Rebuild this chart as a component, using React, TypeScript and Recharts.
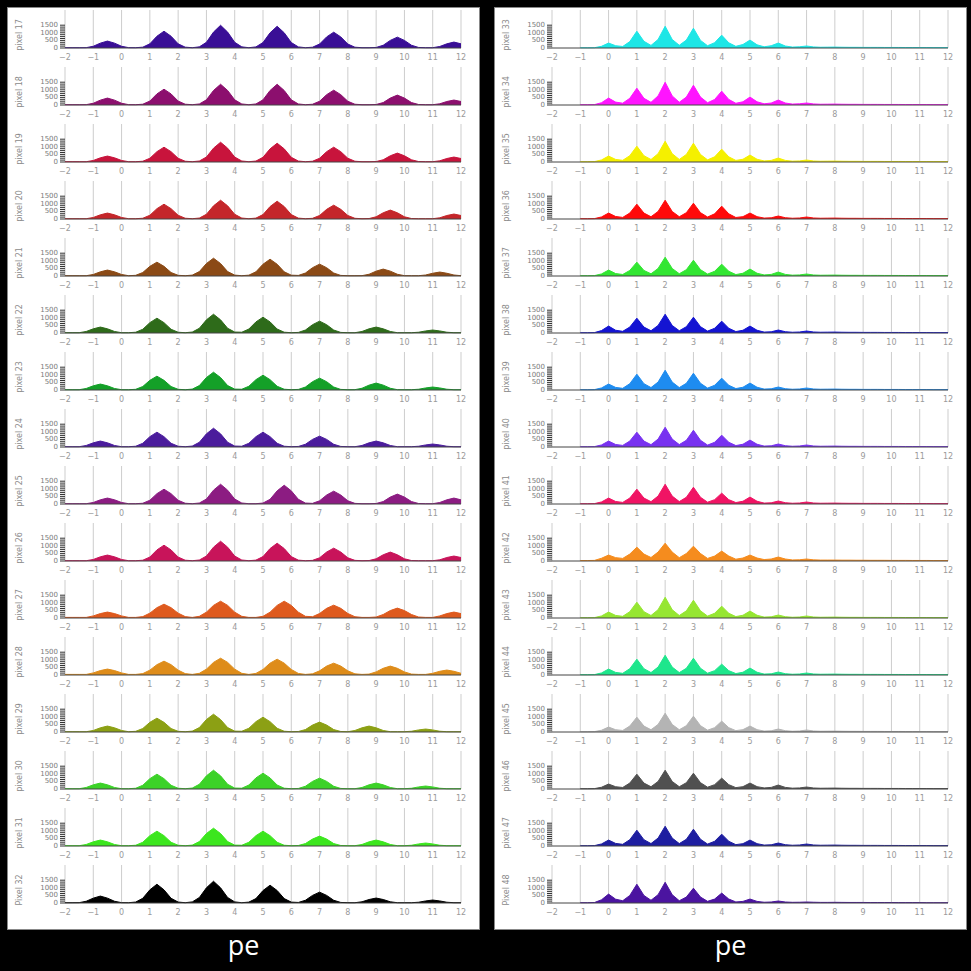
import { Area, AreaChart, CartesianGrid, XAxis, YAxis } from "recharts";

// pe bins (left panel starts at -2, right panel at -1)
const peLeft = [
  -2, -1.75, -1.5, -1.25, -1, -0.75, -0.5, -0.25, 0, 0.25, 0.5, 0.75, 1, 1.25, 1.5, 1.75, 2, 2.25, 2.5,
  2.75, 3, 3.25, 3.5, 3.75, 4, 4.25, 4.5, 4.75, 5, 5.25, 5.5, 5.75, 6, 6.25, 6.5, 6.75, 7, 7.25, 7.5,
  7.75, 8, 8.25, 8.5, 8.75, 9, 9.25, 9.5, 9.75, 10, 10.25, 10.5, 10.75, 11, 11.25, 11.5, 11.75, 12,
];
const peRight = [
  -1, -0.75, -0.5, -0.25, 0, 0.25, 0.5, 0.75, 1, 1.25, 1.5, 1.75, 2, 2.25, 2.5, 2.75, 3, 3.25, 3.5,
  3.75, 4, 4.25, 4.5, 4.75, 5, 5.25, 5.5, 5.75, 6, 6.25, 6.5, 6.75, 7, 7.25, 7.5, 7.75, 8, 8.25, 8.5,
  8.75, 9, 9.25, 9.5, 9.75, 10, 10.25, 10.5, 10.75, 11, 11.25, 11.5, 11.75, 12,
];
const peTicks = [-2, -1, 0, 1, 2, 3, 4, 5, 6, 7, 8, 9, 10, 11, 12];
const countTicks = [0, 125, 250, 375, 500, 625, 750, 875, 1000, 1125, 1250, 1375, 1500];

// left panel counts
const pixel17 = [20,20,20, 23,115,320,455,320,115,23, 20, 55,275,775,1105,775,275,55, 20, 75,375,1045,1495,1045,375,75, 20, 72,360,1000,1430,1000,360,72, 20, 52,260,730,1040,730,260,52, 20,20, 36,180,500,715,500,180,36, 20, 20,100,275,390,275];
const pixel18 = [20,20,20, 23,115,320,455,320,115,23, 20, 52,260,730,1040,730,260,52, 20, 68,340,955,1365,955,340,68, 20, 68,340,955,1365,955,340,68, 20, 50,245,680,975,680,245,50, 20,20, 33,160,455,650,455,160,33, 20, 20,80,230,325,230];
const pixel19 = [20,20,20, 20,100,275,390,275,100,20, 20, 50,245,680,975,680,245,50, 20, 65,325,910,1300,910,325,65, 20, 62,310,865,1235,865,310,62, 20, 50,245,680,975,680,245,50, 20,20, 30,145,410,585,410,145,30, 20, 20,80,230,325,230];
const pixel20 = [20,20,20, 20,100,275,390,275,100,20, 20, 50,245,680,975,680,245,50, 20, 62,310,865,1235,865,310,62, 20, 58,290,820,1170,820,290,58, 20, 45,230,635,910,635,230,45, 20, 30,145,410,585,410,145,30, 20,20, 20,80,230,325,230];
const pixel21 = [20,20,20, 20,100,275,390,275,100,20, 45,230,635,910,635,230,45, 20, 58,290,820,1170,820,290,58, 20, 55,275,775,1105,775,275,55, 39,195,545,780,545,195,39, 20,20, 23,115,320,455,320,115,23, 20, 20,65,180,260,180,65,20];
const pixel22 = [20,20, 20,100,275,390,275,100,20, 20, 50,245,680,975,680,245,50, 20, 62,310,865,1235,865,310,62, 52,260,730,1040,730,260,52, 20, 39,195,545,780,545,195,39, 20, 20,100,275,390,275,100,20, 20, 20,50,135,195,135,50,20, 20];
const pixel23 = [20,20, 20,100,275,390,275,100,20, 20, 45,230,635,910,635,230,45, 20, 58,290,820,1170,820,290,58, 50,245,680,975,680,245,50, 20, 39,195,545,780,545,195,39, 20, 23,115,320,455,320,115,23, 20, 20,50,135,195,135,50,20, 20];
const pixel24 = [20,20, 20,100,275,390,275,100,20, 20, 50,245,680,975,680,245,50, 20, 62,310,865,1235,865,310,62, 50,245,680,975,680,245,50, 20, 36,180,500,715,500,180,36, 20, 20,100,275,390,275,100,20, 20, 20,50,135,195,135,50,20, 20];
const pixel25 = [20,20,20, 20,100,275,390,275,100,20, 20, 50,245,680,975,680,245,50, 20, 65,325,910,1300,910,325,65, 20,20, 62,310,865,1235,865,310,62, 42,210,590,845,590,210,42, 20,20, 33,160,455,650,455,160,33, 20, 20,100,275,390,275];
const pixel26 = [20,20,20, 20,100,275,390,275,100,20, 20, 52,260,730,1040,730,260,52, 20, 65,325,910,1300,910,325,65, 20, 58,290,820,1170,820,290,58, 20, 42,210,590,845,590,210,42, 20, 30,145,410,585,410,145,30, 20,20, 20,80,230,325,230];
const pixel27 = [40,40,40, 40,137,290,390,290,137,40, 40, 91,320,680,910,680,320,91, 40, 110,385,830,1105,830,385,110, 40,40, 110,385,830,1105,830,385,110, 85,295,635,845,635,295,85, 40,40, 65,230,490,650,490,230,65, 40, 40,137,290,390,290];
const pixel28 = [40,40,40, 40,137,290,390,290,137,40, 40, 91,320,680,910,680,320,91, 40, 110,385,830,1105,830,385,110, 40, 104,364,780,1040,780,364,104, 40, 78,273,585,780,585,273,78, 40, 59,205,440,585,440,205,59, 40, 40,114,244,325,244,114];
const pixel29 = [20,20,20, 20,100,275,390,275,100,20, 45,230,635,910,635,230,45, 20, 58,290,820,1170,820,290,58, 50,245,680,975,680,245,50, 20, 33,160,455,650,455,160,33, 20,100,275,390,275,100,20, 20, 20,50,135,195,135,50,20, 20,20];
const pixel30 = [20,20, 20,100,275,390,275,100,20, 20, 50,245,680,975,680,245,50, 20, 62,310,865,1235,865,310,62, 52,260,730,1040,730,260,52, 20, 36,180,500,715,500,180,36, 20, 20,100,275,390,275,100,20, 20,50,135,195,135,50,20, 20,20];
const pixel31 = [20,20, 20,100,275,390,275,100,20, 20, 50,245,680,975,680,245,50, 20, 58,290,820,1170,820,290,58, 50,245,680,975,680,245,50, 20, 33,160,455,650,455,160,33, 20, 20,100,275,390,275,100,20, 20,50,135,195,135,50,20, 20,20];
const pixel32 = [20,20, 23,115,320,455,320,115,23, 20, 62,310,865,1235,865,310,62, 20, 72,360,1000,1430,1000,360,72, 20, 58,290,820,1170,820,290,58, 36,180,500,715,500,180,36, 20, 20,80,230,325,230,80,20, 20, 20,50,135,195,135,50,20, 20];

// right panel counts (tail above 8 pe shared)
const rightTail = [45, 45, 40, 40, 40, 35, 35, 35, 30, 30, 30, 30, 25, 25, 25];
const pixel33 = [15,15,20,110,325, 150,100,420,1105, 440,170,560,1430, 560,180,520,1300, 500,150,350,845, 340,110,230,520, 210,80,150,325, 130,60,80,130, 70,50,55,60, 50, ...rightTail];
const pixel34 = [20,20,25,150,455, 190,120,440,1105, 440,175,600,1495, 600,180,520,1300, 520,150,365,910, 365,115,210,520, 210,80,130,325, 130,60,80,130, 70,50,55,60, 50, ...rightTail];
const pixel35 = [20,20,25,135,390, 170,110,415,1040, 415,165,545,1365, 545,170,495,1235, 495,140,340,845, 340,105,180,455, 180,70,105,260, 105,55,70,130, 65,50,55,60, 50, ...rightTail];
const pixel36 = [20,20,25,135,390, 165,105,390,975, 390,150,495,1235, 495,150,415,1040, 415,130,340,845, 340,100,155,390, 155,60,80,195, 85,50,65,130, 65,50,55,60, 50, ...rightTail];
const pixel37 = [20,20,25,135,390, 160,100,365,910, 365,145,495,1235, 495,150,415,1040, 415,125,310,780, 310,95,180,455, 180,70,105,260, 105,55,70,130, 65,50,55,60, 50, ...rightTail];
const pixel38 = [20,20,25,160,455, 180,110,390,975, 390,150,495,1235, 495,150,415,1040, 415,125,310,780, 310,95,180,455, 180,60,80,195, 85,50,65,130, 65,50,55,60, 50, ...rightTail];
const pixel39 = [20,20,25,135,390, 170,110,415,1040, 415,160,520,1300, 520,160,440,1105, 440,125,310,780, 310,95,180,455, 180,60,80,195, 85,50,65,130, 65,50,55,60, 50, ...rightTail];
const pixel40 = [20,20,25,135,390, 165,105,390,975, 390,155,520,1300, 520,160,440,1105, 440,125,310,780, 310,95,180,455, 180,60,80,195, 85,50,65,130, 65,50,55,60, 50, ...rightTail];
const pixel41 = [20,20,25,135,390, 165,105,390,975, 390,155,520,1300, 520,160,440,1105, 440,120,285,715, 285,95,180,455, 180,60,80,195, 85,50,65,130, 65,50,55,60, 50, ...rightTail];
const pixel42 = [30,30,40,180,390, 220,170,455,910, 455,230,585,1170, 585,220,490,975, 490,170,325,650, 325,120,195,390, 195,95,130,260, 130,70,80,130, 75,60,60,60, 55, 55,50,50,45,45,45,40,40,40,35,35,35,30,30,30];
const pixel43 = [20,20,25,135,390, 170,110,415,1040, 415,165,545,1365, 545,165,470,1170, 470,125,310,780, 310,95,180,455, 180,60,80,195, 85,50,65,130, 65,50,55,60, 50, ...rightTail];
const pixel44 = [20,20,25,135,390, 170,110,415,1040, 415,160,520,1300, 520,160,440,1105, 440,120,285,715, 285,95,180,455, 180,60,80,195, 85,50,65,130, 65,50,55,60, 50, ...rightTail];
const pixel45 = [20,20,25,115,325, 150,100,390,975, 390,150,495,1235, 495,150,415,1040, 415,120,285,715, 285,90,155,390, 155,60,80,195, 85,50,65,130, 65,50,55,60, 50, ...rightTail];
const pixel46 = [20,20,25,115,325, 150,100,390,975, 390,150,495,1235, 495,150,415,1040, 415,120,285,715, 285,90,155,390, 155,70,105,260, 105,55,70,130, 65,50,55,60, 50, ...rightTail];
const pixel47 = [20,20,25,135,390, 170,110,415,1040, 415,160,520,1300, 520,160,440,1105, 440,125,310,780, 310,90,155,390, 155,60,80,195, 85,50,65,130, 65,50,55,60, 50, ...rightTail];
const pixel48 = [20,20,30,210,585, 250,150,495,1235, 495,180,545,1365, 545,150,390,975, 390,110,260,650, 260,70,105,260, 105,50,65,130, 65,45,50,65, 50,40,40,45, 40, 35,35,35,30,30,30,30,25,25,25,25,20,20,20,20];

const leftLabels = ["pixel 17", "pixel 18", "pixel 19", "pixel 20", "pixel 21", "pixel 22", "pixel 23", "pixel 24",
  "pixel 25", "pixel 26", "pixel 27", "pixel 28", "pixel 29", "pixel 30", "pixel 31", "Pixel 32"];
const rightLabels = ["pixel 33", "pixel 34", "pixel 35", "pixel 36", "pixel 37", "pixel 38", "pixel 39", "pixel 40",
  "pixel 41", "pixel 42", "pixel 43", "pixel 44", "pixel 45", "pixel 46", "pixel 47", "Pixel 48"];
const leftColors = ["#3a0f96", "#8c0f6e", "#c8143c", "#c4262a", "#8b4a16", "#2e6b1a", "#14a028", "#4b1c9c",
  "#8c1c82", "#c8145a", "#de5a1e", "#de8c1a", "#8ca014", "#3cd228", "#3ce61e", "#000000"];
const rightColors = ["#1ee6e6", "#ff14ff", "#f5f000", "#ff0a0a", "#32e632", "#1414d2", "#1e8cf0", "#7832f0",
  "#f01464", "#f58c1e", "#96e632", "#1ee68c", "#b4b4b4", "#505050", "#1e1ea0", "#4b14a0"];
const leftValues = [pixel17, pixel18, pixel19, pixel20, pixel21, pixel22, pixel23, pixel24,
  pixel25, pixel26, pixel27, pixel28, pixel29, pixel30, pixel31, pixel32];
const rightValues = [pixel33, pixel34, pixel35, pixel36, pixel37, pixel38, pixel39, pixel40,
  pixel41, pixel42, pixel43, pixel44, pixel45, pixel46, pixel47, pixel48];

const PANEL_W = 471;
const ROW_H = 57;

function PixelLabel(props: any) {
  const { viewBox, text } = props;
  if (!viewBox) return null;
  const x = 11;
  const y = viewBox.y + viewBox.height - 13;
  return (
    <text x={x} y={y} transform={`rotate(-90 ${x} ${y})`} textAnchor="middle" dominantBaseline="central"
      fontSize={8} fill="#8a8a8a" fontFamily="DejaVu Sans">
      {text}
    </text>
  );
}

function CountTick(props: any) {
  const { x, y, payload } = props;
  if (payload.value % 500 !== 0) return <g />;
  return (
    <text x={x} y={y} textAnchor="end" dominantBaseline="central" fontSize={7} fill="#7a7a7a" fontFamily="DejaVu Sans">
      {payload.value}
    </text>
  );
}

function HistRow({ pe, values, color, label }: { pe: number[]; values: number[]; color: string; label: string }) {
  const data = pe.map((x, i) => ({ pe: x, count: values[i] }));
  return (
    <AreaChart width={PANEL_W} height={ROW_H} data={data} margin={{ top: 2, right: 18, bottom: 0, left: 0 }}>
      <CartesianGrid horizontal={false} stroke="#cdcdcd" />
      <XAxis type="number" dataKey="pe" domain={[-2, 12]} ticks={peTicks} interval={0} height={17}
        tickLine={false} tickSize={4} tickMargin={2} axisLine={{ stroke: "#444" }}
        tick={{ fontSize: 8, fill: "#9a9a9a", fontFamily: "DejaVu Sans" }}
        tickFormatter={(v: number) => String(v).replace("-", "\u2212")} />
      <YAxis type="number" domain={[0, 2500]} ticks={countTicks} interval={0} width={57}
        axisLine={false} tickLine={{ stroke: "#333" }} tickSize={5} tickMargin={2}
        tick={<CountTick />} label={<PixelLabel text={label} />} />
      <Area type="linear" dataKey="count" stroke={color} fill={color} fillOpacity={1} strokeWidth={1}
        dot={false} activeDot={false} isAnimationActive={false} />
    </AreaChart>
  );
}

function Panel({ left, pe, labels, colors, values }: { left: number; pe: number[]; labels: string[]; colors: string[]; values: number[][] }) {
  return (
    <>
      <div style={{ position: "absolute", left, top: 8, width: PANEL_W, height: 921, background: "#fff", outline: "1px solid #888" }}>
        {labels.map((lab, i) => (
          <HistRow key={lab} pe={pe} values={values[i]} color={colors[i]} label={lab} />
        ))}
      </div>
      <div style={{ position: "absolute", left, top: 931, width: PANEL_W, textAlign: "center", color: "#fff",
        fontFamily: "Open Sans", fontSize: 27, lineHeight: 1 }}>
        pe
      </div>
    </>
  );
}

export default function App() {
  return (
    <div style={{ position: "absolute", left: 0, top: 0, width: 971, height: 971, background: "#000", overflow: "hidden" }}>
      <Panel left={8} pe={peLeft} labels={leftLabels} colors={leftColors} values={leftValues} />
      <Panel left={495} pe={peRight} labels={rightLabels} colors={rightColors} values={rightValues} />
    </div>
  );
}
